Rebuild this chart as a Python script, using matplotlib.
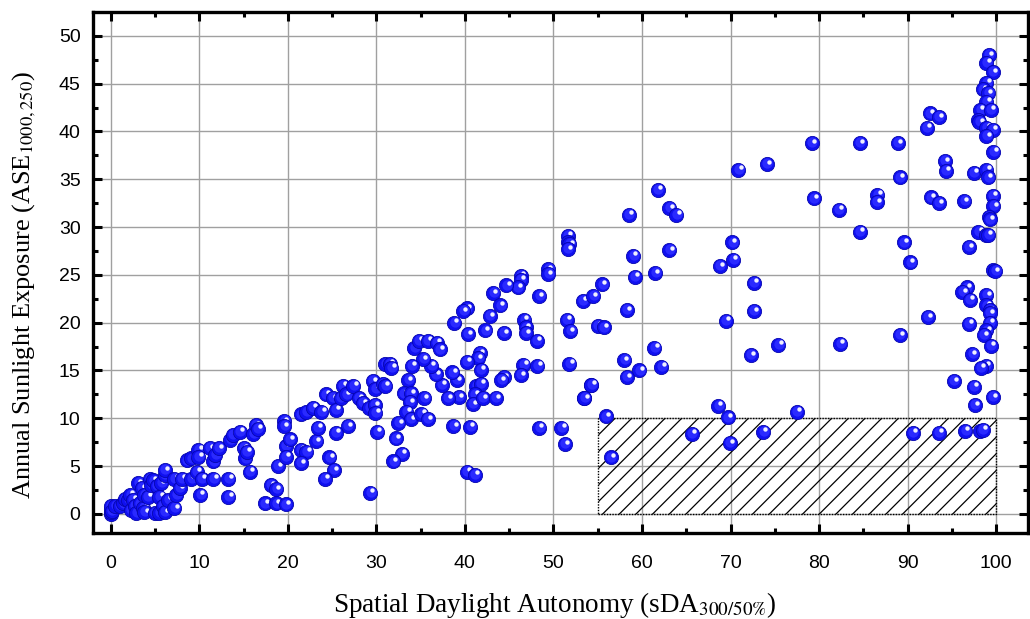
import numpy as np
import matplotlib
matplotlib.use("Agg")
import matplotlib.pyplot as plt
from matplotlib.patches import Rectangle
from matplotlib.transforms import ScaledTranslation

# ---- data: sDA (x) and ASE (y), grouped by region of the chart ----
sda_low = [0, 0, 0, 0, 0.1, 0.5, 1.0, 1.4, 1.6, 2.0, 2.2, 2.3, 2.5, 2.7, 2.9, 3.1, 3.3, 3.5,
           3.7, 3.8, 3.8, 4.2, 4.4, 4.6, 4.8, 5.0, 5.2, 5.5, 5.5, 5.7, 5.9, 6.1, 6.1, 6.1,
           6.5, 7.2, 7.2, 7.4, 7.8, 8.0, 8.6, 9.1, 9.1, 9.7, 9.9, 9.9, 10.1, 10.3, 11.2,
           11.6, 11.6, 11.8, 12.2, 13.3, 13.3, 13.5, 13.8, 14.6, 15.0, 15.2, 15.4, 15.7]
ase_low = [0, 0.2, 0.5, 0.8, 0.3, 0.8, 0.8, 1.1, 1.6, 1.5, 2.0, 0.4, 1.5, 0.8, 0.1, 3.2, 1.1, 2.7,
           0.6, 0.2, 2.0, 1.8, 3.7, 3.0, 3.5, 0.1, 2.9, 0.1, 1.8, 3.2, 0.8, 0.2, 4.1, 4.6,
           1.5, 0.6, 3.7, 2.0, 2.7, 3.7, 5.6, 5.8, 3.7, 4.4, 6.7, 6.0, 2.0, 3.7, 6.9,
           5.5, 3.7, 6.2, 6.9, 3.7, 1.8, 7.7, 8.3, 8.6, 6.9, 5.8, 6.5, 4.4]

sda_mid = [16.1, 16.4, 16.6, 17.4, 18.1, 18.7, 18.7, 19.8, 18.9, 19.6, 19.6, 19.8, 19.8, 20.2,
           21.5, 22.1, 22.8, 23.8, 21.5, 22.1, 21.5, 23.2, 23.4, 24.3, 25.1, 25.4, 24.7, 25.2,
           24.2, 26.2, 26.0, 26.6, 27.4, 26.8, 25.4, 28.0, 28.5, 29.2, 29.6, 29.9, 29.8, 29.9,
           30.1, 29.3, 30.9]
ase_mid = [8.4, 9.3, 8.9, 1.1, 3.0, 2.6, 1.1, 1.0, 5.0, 9.7, 9.2, 7.1, 6.0, 7.8,
           10.4, 10.7, 11.1, 10.7, 6.7, 6.5, 5.3, 7.6, 9.0, 12.5, 12.1, 10.9, 5.9, 4.6,
           3.7, 13.4, 12.1, 12.5, 13.4, 9.2, 8.5, 12.1, 11.6, 11.1, 13.9, 13.1, 11.4, 10.6,
           8.6, 2.2, 13.5]

sda_upper = [51.6, 51.6, 51.8, 51.6, 49.4, 49.4, 46.3, 46.3, 46.0, 44.7, 43.2, 44.0, 48.4, 42.8,
             40.2, 39.8, 38.8, 40.3, 42.3, 44.4, 46.7, 46.9, 46.9, 48.1, 51.5, 51.9, 53.3, 54.5,
             55.5, 55.0, 55.7, 51.8, 54.2, 53.4, 48.2, 46.6, 46.3, 44.4, 44.1, 41.7, 41.5, 40.2,
             41.8, 41.3, 41.8, 41.1, 40.9, 42.0, 43.5, 39.3, 38.1, 39.1, 38.6, 37.4, 36.7, 36.2,
             35.3, 34.0, 33.6, 33.1, 33.9, 33.8, 35.4, 33.4, 33.9, 35.1, 35.8, 32.5, 32.2, 32.9,
             38.7, 40.6, 48.4, 50.9, 51.3, 55.9, 31.0, 31.5, 30.7, 31.0, 34.3, 34.8, 35.8, 36.8,
             37.2, 31.7, 31.9, 40.2, 41.1, 53.5, 54.3, 56.5]
ase_upper = [29.1, 28.4, 28.2, 27.7, 25.6, 25.1, 24.9, 24.5, 23.7, 23.9, 23.1, 21.8, 22.8, 20.7,
             21.5, 21.2, 20.0, 18.8, 19.2, 18.9, 20.3, 19.5, 18.9, 18.1, 20.3, 19.1, 22.3, 22.8,
             24.0, 19.7, 19.5, 15.7, 13.5, 12.1, 15.5, 15.6, 14.5, 14.3, 14.0, 16.8, 16.3, 15.9,
             15.1, 13.4, 13.6, 12.5, 11.5, 12.1, 12.1, 12.2, 12.1, 14.0, 14.8, 13.5, 14.6, 15.5,
             16.2, 15.5, 14.0, 12.6, 12.6, 11.7, 12.1, 10.7, 9.9, 10.5, 9.9, 9.5, 7.9, 6.3,
             9.2, 9.1, 9.0, 9.0, 7.3, 10.2, 15.7, 15.7, 13.6, 13.4, 17.4, 18.1, 18.1, 17.9,
             17.2, 15.3, 5.5, 4.4, 4.1, 12.1, 13.5, 5.9]

sda_high = [61.8, 63.1, 63.9, 58.5, 59.0, 63.1, 59.2, 61.5, 58.3, 58.0, 58.3, 59.7, 61.4, 62.2,
            65.6, 68.6, 69.7, 69.9, 73.7, 77.5, 69.5, 68.8, 70.2, 70.3, 72.6, 72.6, 72.3, 75.4,
            82.4, 70.9, 74.1, 79.2, 79.4, 82.2, 84.6, 84.6]
ase_high = [33.9, 32.0, 31.3, 31.3, 27.0, 27.6, 24.8, 25.2, 21.3, 16.1, 14.3, 15.0, 17.4, 15.4,
            8.4, 11.3, 10.1, 7.4, 8.6, 10.7, 20.2, 25.9, 28.4, 26.6, 24.2, 21.2, 16.6, 17.7,
            17.8, 36.0, 36.6, 38.8, 33.0, 31.8, 38.8, 29.5]

sda_top = [99.2, 98.9, 99.6, 98.9, 98.5, 99.1, 98.9, 98.2, 99.4, 98.0, 98.1, 98.9, 99.6, 98.9,
           99.7, 88.9, 92.5, 93.5, 92.2, 94.2, 94.3, 97.5, 98.9, 99.1, 89.1, 86.6, 86.5, 92.6,
           93.5, 96.4, 99.6, 99.7, 99.2, 99.3, 98.0, 98.8, 99.1, 89.6, 90.3, 96.9, 99.7, 99.9,
           96.7, 96.2, 97.0, 98.9, 98.9, 99.3, 99.3, 99.3, 98.9, 98.6, 92.3, 96.9, 89.1, 99.4,
           97.3, 98.8, 98.3, 95.2, 97.5, 97.6, 99.6, 90.6, 93.5, 96.5, 98.2, 98.5]
ase_top = [48.0, 47.2, 46.2, 45.1, 44.4, 44.0, 43.1, 42.3, 42.3, 41.2, 41.0, 40.4, 40.2, 39.5,
           37.9, 38.8, 41.9, 41.5, 40.4, 36.9, 35.9, 35.7, 36.0, 35.2, 35.2, 33.4, 32.6, 33.1,
           32.5, 32.7, 33.3, 32.2, 31.1, 30.8, 29.5, 29.2, 29.2, 28.4, 26.3, 27.9, 25.5, 25.4,
           23.7, 23.2, 22.4, 22.9, 21.8, 21.3, 21.0, 20.0, 19.2, 18.7, 20.6, 19.9, 18.7, 17.6,
           16.7, 15.5, 15.3, 13.9, 13.3, 11.4, 12.2, 8.5, 8.5, 8.7, 8.7, 8.8]

# highlighted target zone (sDA >= 55, ASE <= 10)
zone_sda = [55, 100]
zone_ase = [0, 10]

x_ticks = list(range(0, 101, 10))
y_ticks = list(range(0, 51, 5))

sda = sda_low + sda_mid + sda_upper + sda_high + sda_top
ase = ase_low + ase_mid + ase_upper + ase_high + ase_top

plt.rcParams['mathtext.fontset'] = 'stix'
plt.rcParams['hatch.linewidth'] = 0.9

fig = plt.figure(figsize=(10.30, 6.19), dpi=100)
ax = fig.add_axes([93/1030, 1 - 533/619, (1028 - 93)/1030, (533 - 12)/619])

ax.set_xlim(-2, 103.6)
ax.set_ylim(-2, 52.5)

ax.set_xticks(x_ticks)
ax.set_yticks(y_ticks)
ax.set_xticks([v + 5 for v in x_ticks if v + 5 < 103.6], minor=True)
ax.set_yticks([v + 2.5 for v in y_ticks if v + 2.5 < 52.5], minor=True)
ax.grid(True, which='major', color='#a0a0a0', linewidth=1.0, zorder=0)
ax.set_axisbelow(True)

ax.tick_params(which='both', direction='in', top=True, right=True, width=2.2,
               labelsize=14, labelfontfamily='Liberation Sans', color='black')
ax.tick_params(which='major', length=6.5)
ax.tick_params(which='minor', length=3.5)
ax.tick_params(axis='x', which='major', pad=16)
ax.tick_params(axis='y', which='major', pad=9)
for sp in ax.spines.values():
    sp.set_linewidth(2.4)

# hatched zone
rect = Rectangle((zone_sda[0], zone_ase[0]), zone_sda[1] - zone_sda[0], zone_ase[1] - zone_ase[0],
                 fill=False, hatch='//', edgecolor='black', linestyle=(0, (1, 1)),
                 linewidth=1.0, zorder=1.5)
ax.add_patch(rect)

# sphere-like markers drawn one by one so overlaps occlude properly
mid_off = ax.transData + ScaledTranslation(0.004, 0.008, fig.dpi_scale_trans)
hi_off = ax.transData + ScaledTranslation(0.022, 0.024, fig.dpi_scale_trans)
for xi, yi in zip(sda, ase):
    ax.scatter([xi], [yi], s=105, color='#1010f0', edgecolors='#0606b0', linewidths=0.6,
               zorder=3, clip_on=False)
    ax.scatter([xi], [yi], s=55, color='#2a2aff', linewidths=0, zorder=3, transform=mid_off,
               clip_on=False)
    ax.scatter([xi], [yi], s=10, color='#f0f0ff', linewidths=0, zorder=3, transform=hi_off,
               clip_on=False)

ax.set_xlabel(r'Spatial Daylight Autonomy (sDA$_{\mathrm{300/50\%}}$)',
              fontfamily='Liberation Serif', fontsize=19.5, labelpad=13)
ax.set_ylabel(r'Annual Sunlight Exposure (ASE$_{\mathrm{1000,250}}$)',
              fontfamily='Liberation Serif', fontsize=19, labelpad=15)
ax.xaxis.label.set_x(0.494)
ax.yaxis.label.set_y(0.476)

fig.savefig('out.png', dpi=100)
